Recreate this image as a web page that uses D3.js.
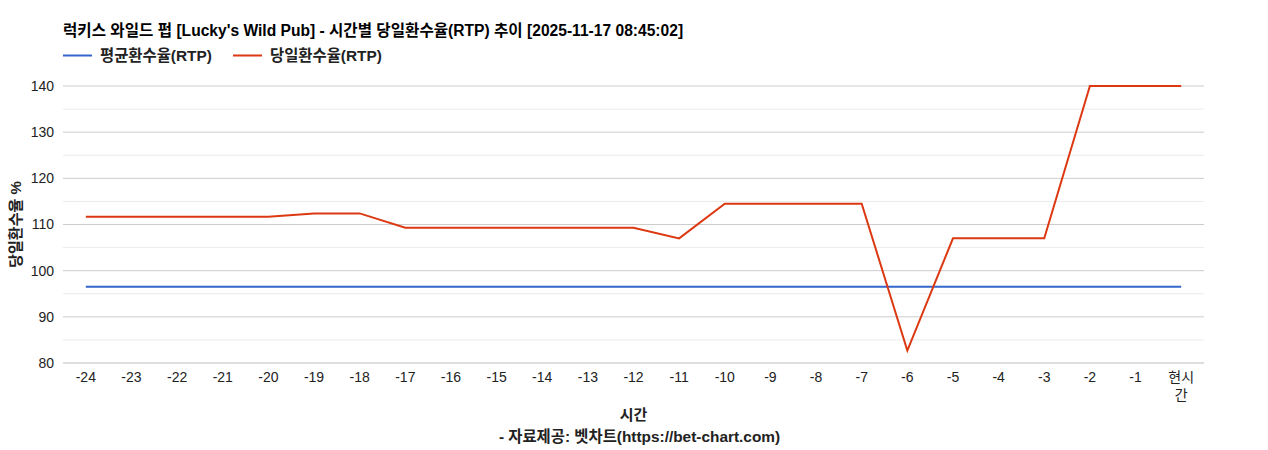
<!DOCTYPE html>
<html>
<head>
<meta charset="utf-8">
<script src="https://cdn.jsdelivr.net/npm/d3@7"></script>
<style>
  body{margin:0;background:#fff;}
  text{font-family:"Liberation Sans","Noto Sans CJK KR",Arial,sans-serif;}
</style>
</head>
<body>
<svg id="chart"></svg>
<script>
var hours = ["-24","-23","-22","-21","-20","-19","-18","-17","-16","-15","-14","-13","-12",
             "-11","-10","-9","-8","-7","-6","-5","-4","-3","-2","-1","현시간"];
var avgRtp = [96.5,96.5,96.5,96.5,96.5,96.5,96.5,96.5,96.5,96.5,96.5,96.5,96.5,
              96.5,96.5,96.5,96.5,96.5,96.5,96.5,96.5,96.5,96.5,96.5,96.5];
var dayRtp = [111.7,111.7,111.7,111.7,111.7,112.4,112.4,109.3,109.3,109.3,109.3,109.3,109.3,
              107.0,114.5,114.5,114.5,114.5,82.7,107.0,107.0,107.0,140,140,140];
var yTicks = [80,90,100,110,120,130,140];
var minorTicks = [85,95,105,115,125,135];
var seriesNames = ["평균환수율(RTP)","당일환수율(RTP)"];
var seriesColors = ["#3366cc","#dc3912"];

function draw(){
  var width=1268, height=450;
  var margin={top:86,bot:87,left:63,right:64};
  var svg=d3.select("#chart").attr("width",width).attr("height",height);

  var xScale=d3.scaleBand()
    .domain(hours)
    .range([margin.left,width-margin.right]);
  var yScale=d3.scaleLinear()
    .domain([80,140])
    .range([height-margin.bot,margin.top]);

  // grid
  svg.append("g").selectAll("line.minor")
    .data(minorTicks).enter().append("line")
    .attr("x1",margin.left).attr("x2",width-margin.right)
    .attr("y1",function(d){return yScale(d);})
    .attr("y2",function(d){return yScale(d);})
    .attr("stroke","#ebebeb").attr("stroke-width",1);
  svg.append("g").selectAll("line.major")
    .data(yTicks).enter().append("line")
    .attr("x1",margin.left).attr("x2",width-margin.right)
    .attr("y1",function(d){return yScale(d);})
    .attr("y2",function(d){return yScale(d);})
    .attr("stroke",function(d){return d===80?"#bdbdbd":"#cccccc";}).attr("stroke-width",1);

  var yAxis=d3.axisLeft(yScale).tickValues(yTicks).tickSize(0).tickPadding(9);
  var gy=svg.append("g")
    .attr("transform","translate("+margin.left+",0)")
    .call(yAxis);
  gy.select(".domain").remove();
  gy.selectAll("text").attr("font-size",14).attr("fill","#222");

  var xAxis=d3.axisBottom(xScale).tickSize(0).tickPadding(9);
  var gx=svg.append("g")
    .attr("transform","translate(0,"+(height-margin.bot)+")")
    .call(xAxis);
  gx.select(".domain").remove();
  gx.selectAll("text").attr("font-size",14).attr("fill","#222")
    .each(function(d){
      if(d==="현시간"){
        var t=d3.select(this).text("");
        t.append("tspan").attr("x",0).attr("dy","0.71em").text("현시");
        t.append("tspan").attr("x",0).attr("dy","1.3em").text("간");
      }
    });

  var lineMaker=d3.line()
    .x(function(d,i){return xScale(hours[i])+xScale.bandwidth()/2;})
    .y(function(d){return yScale(d);});

  [avgRtp,dayRtp].forEach(function(s,i){
    svg.append("path")
      .attr("d",lineMaker(s))
      .attr("fill","none")
      .attr("stroke",seriesColors[i])
      .attr("stroke-width",2);
  });

  // title
  svg.append("text")
    .attr("x",63).attr("y",36)
    .attr("font-size",15.6).attr("font-weight","bold").attr("fill","#000")
    .text("럭키스 와일드 펍 [Lucky's Wild Pub] - 시간별 당일환수율(RTP) 추이 [2025-11-17 08:45:02]");

  // legend
  var lx=[63,233];
  seriesNames.forEach(function(n,i){
    svg.append("line")
      .attr("x1",lx[i]).attr("x2",lx[i]+29)
      .attr("y1",55.5).attr("y2",55.5)
      .attr("stroke",seriesColors[i]).attr("stroke-width",2);
    svg.append("text")
      .attr("x",lx[i]+37).attr("y",60.5)
      .attr("font-size",15.4).attr("font-weight","bold").attr("fill","#222")
      .text(n);
  });

  // axis titles
  svg.append("text")
    .attr("transform","translate(21,"+yScale(110)+") rotate(-90)")
    .attr("text-anchor","middle")
    .attr("font-size",15).attr("font-weight","bold").attr("fill","#222")
    .text("당일환수율 %");
  svg.append("text")
    .attr("x",(margin.left+width-margin.right)/2).attr("y",420)
    .attr("text-anchor","middle")
    .attr("font-size",15).attr("font-weight","bold").attr("fill","#222")
    .text("시간");
  svg.append("text")
    .attr("x",(margin.left+width-margin.right)/2+6).attr("y",442)
    .attr("text-anchor","middle")
    .attr("font-size",15.4).attr("font-weight","bold").attr("fill","#222")
    .text("- 자료제공: 벳차트(https://bet-chart.com)");
}
draw();
</script>
</body>
</html>
